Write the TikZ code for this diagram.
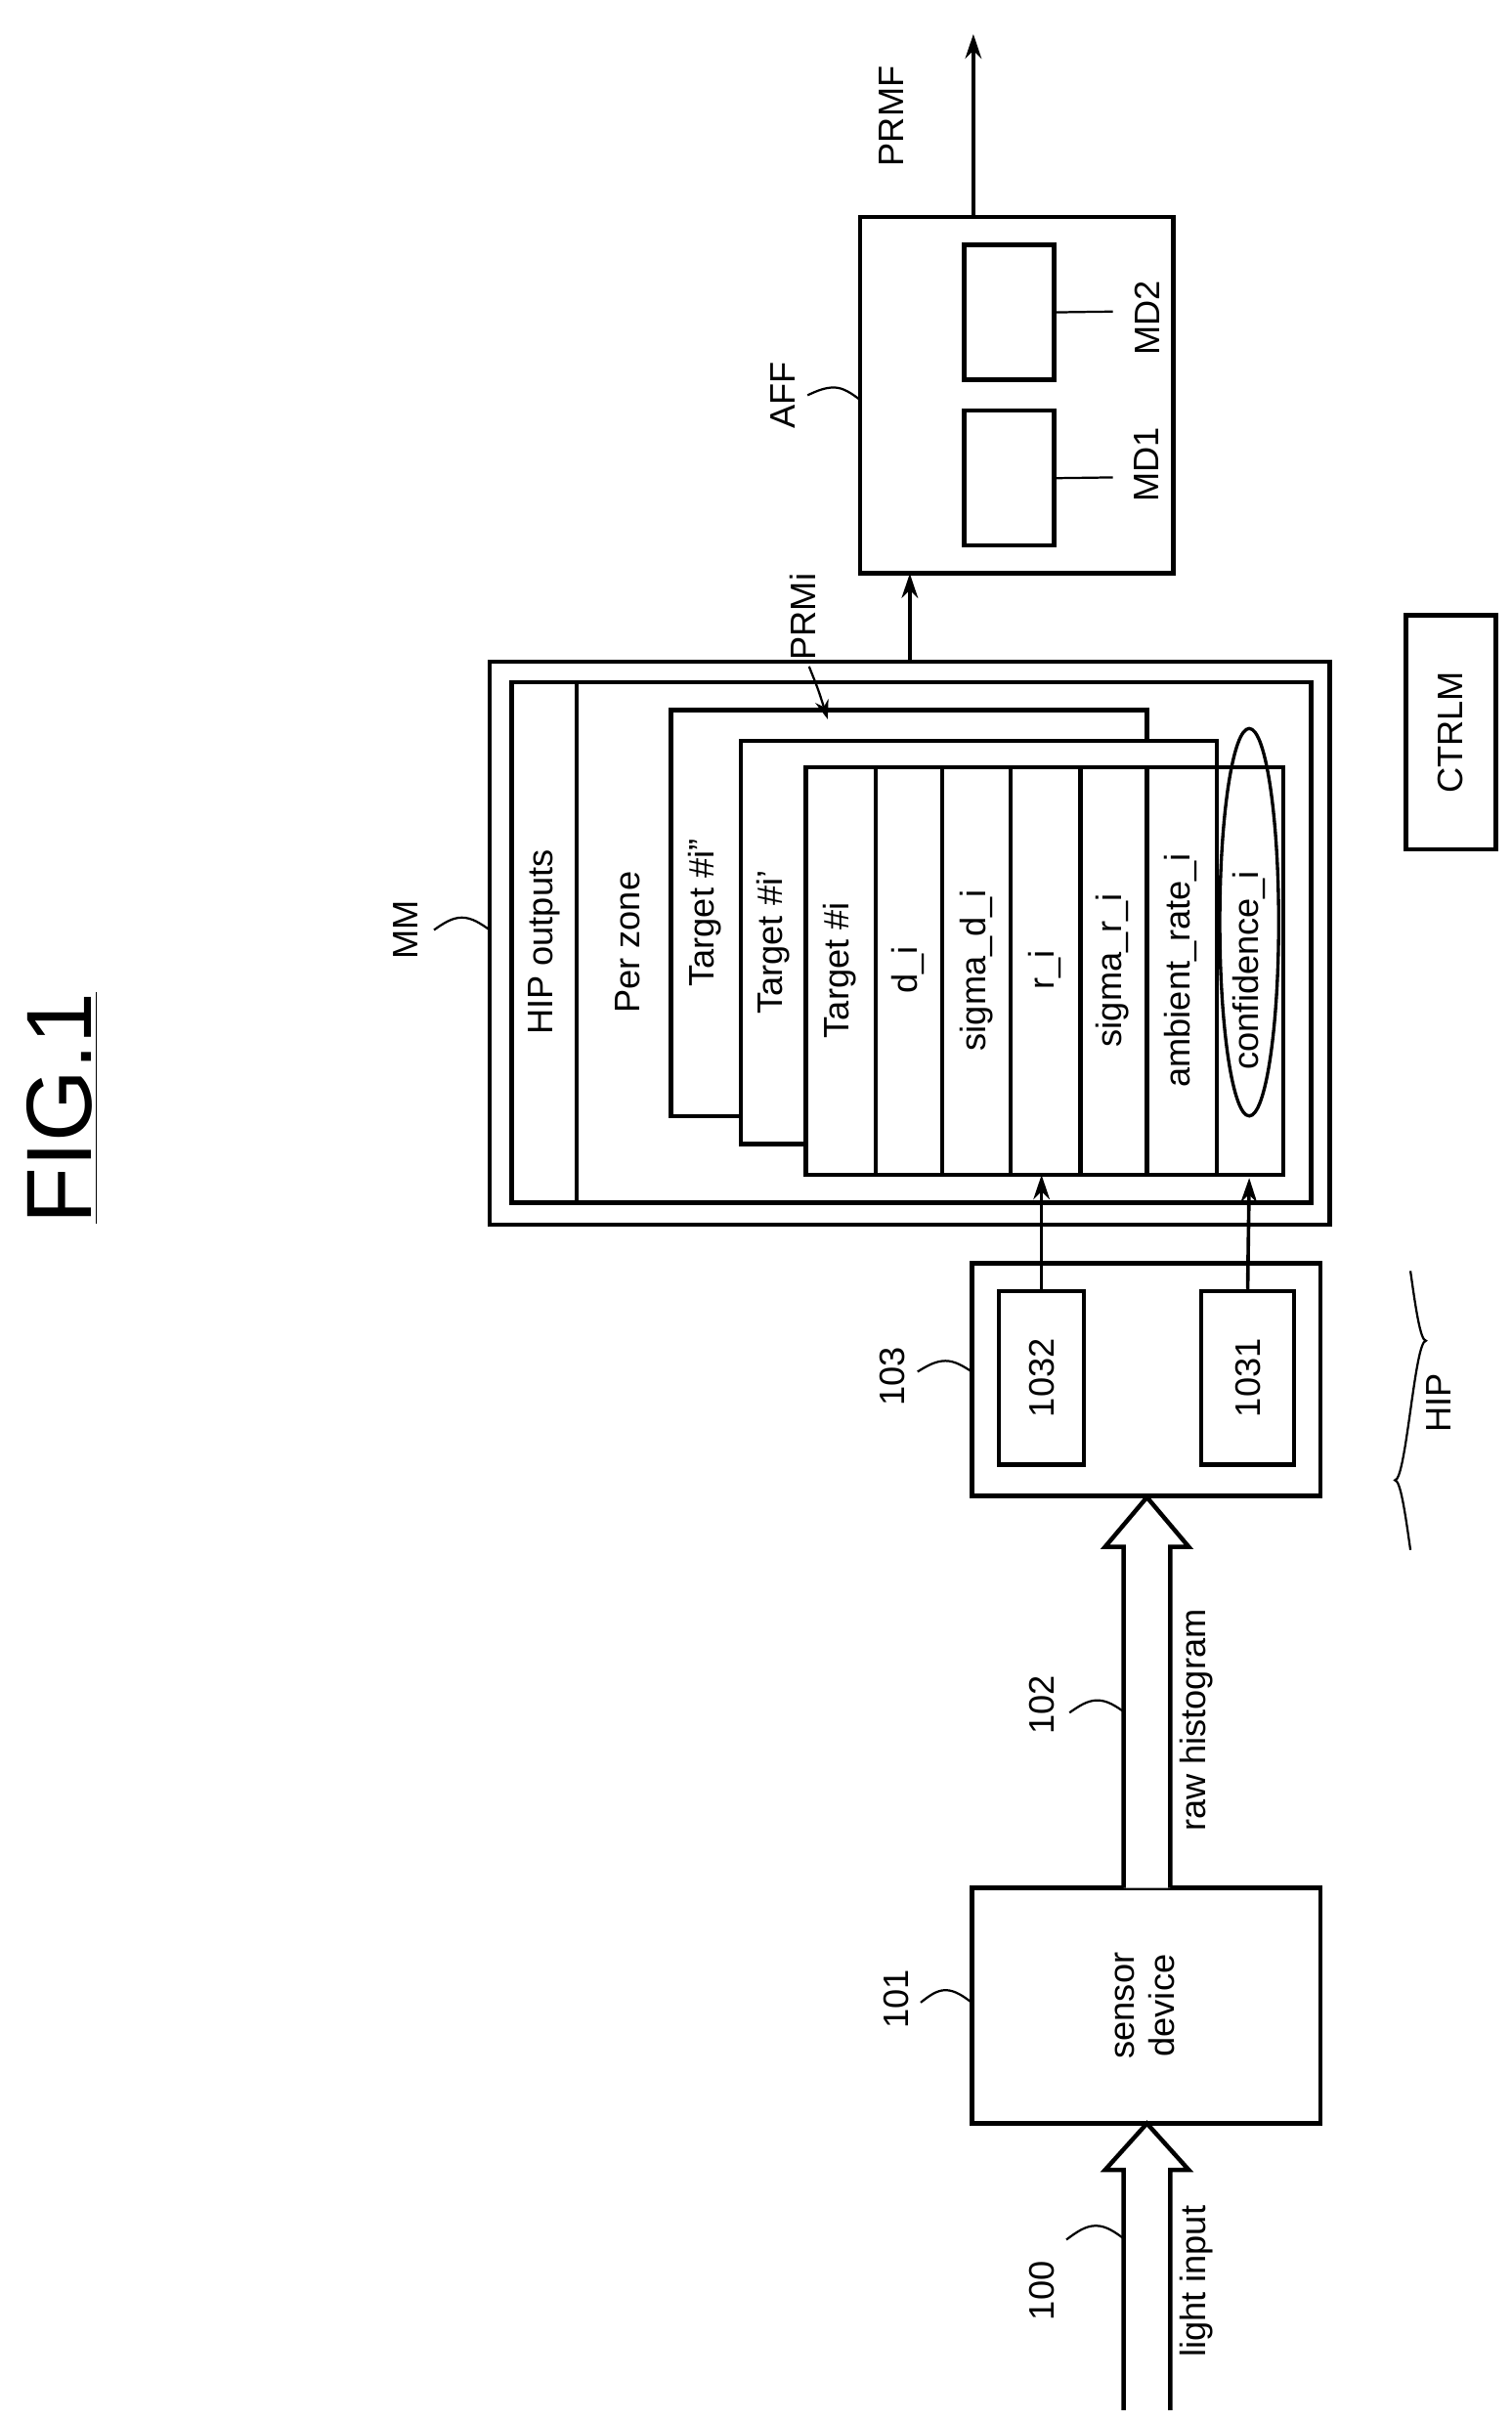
\documentclass[tikz,border=0pt]{standalone}
\usepackage{fontspec}
\setmainfont{Liberation Sans}
\usepackage{graphicx}
\usetikzlibrary{arrows.meta, positioning, calc}

\begin{document}
\begin{tikzpicture}[
    x=0.02cm, y=-0.02cm,
    font=\fontsize{13}{15}\selectfont,
    line width=1.3pt,
    box/.style={draw, line width=1.6pt, inner sep=0pt, fill=white},
    rlabel/.style={rotate=90, inner sep=1pt},
    lead/.style={line width=0.8pt},
    arrow/.style={-{Stealth[length=9pt, width=6pt]}, line width=1.3pt},
    hollow/.style={draw, line width=1.6pt, fill=white}
]
\useasboundingbox (0,0) rectangle (975,1562);

% === TITLE ===
\node[rlabel, font=\fontsize{34}{36}\selectfont] (fig) at (40,715) {\underline{FIG.1}};

% === SENSOR AND INPUT ===
\node[box, minimum width=4.5cm, minimum height=3.04cm] (sensor) at (739.5,1294)
    {\rotatebox{90}{\begin{tabular}{c}sensor\\device\end{tabular}}};
\coordinate (lin) at (740,1555);
\draw[hollow] (725,1555) -- (725,1400) -- (713,1400) -- (740,1370) -- (767,1400) -- (755,1400) -- (755,1555);
\node[rlabel] (light) at (772,1472) {light input};
\node[rlabel] (n100) at (672,1478) {100};
\draw[lead] (688,1445) sin (707,1436) cos (726,1445);
\node[rlabel] (n101) at (578,1290) {101};
\draw[lead] (594,1292) sin (610,1284) cos (627,1292);

% === RAW HISTOGRAM ===
\draw[hollow] (725,1218) -- (725,998) -- (713,998) -- (740,966) -- (767,998) -- (755,998) -- (755,1218);
\node[rlabel] (raw) at (772,1110) {raw histogram};
\node[rlabel] (n102) at (672,1100) {102};
\draw[lead] (690,1105) sin (708,1097) cos (726,1105);

% === HIP ===
\node[box, minimum width=4.5cm, minimum height=3.0cm] (hip) at (739.5,890) {};
\node[box, minimum width=1.1cm, minimum height=2.24cm] (b1032) at (672,889) {\rotatebox{90}{1032}};
\node[box, minimum width=1.2cm, minimum height=2.24cm] (b1031) at (805,889) {\rotatebox{90}{1031}};
\node[rlabel] (n103) at (576,888) {103};
\draw[lead] (592,885) sin (610,878) cos (627,885);
\node[rlabel] (hiplab) at (928,905) {HIP};
\draw[lead] (910,820) sin (920,865) cos (910,910) sin (900,955) cos (910,1000);

% === MM ===
\node[box, minimum width=10.84cm, minimum height=7.26cm] (mmout) at (587,608.5) {};
\node[box, minimum width=10.32cm, minimum height=6.72cm] (mmin) at (588,608) {};
\node[rlabel] (mmlab) at (262,600) {MM};
\draw[lead] (280,600) sin (298,592) cos (316,600);
\draw[line width=1.6pt] (372,440) -- (372,776);
\node[rlabel] (hipout) at (351,608) {HIP outputs};
\node[rlabel] (perzone) at (405,608) {Per zone};

\draw[box] (433,458) rectangle (740,720);
\node[rlabel] (tii) at (455,589) {Target \#i''};
\draw[box] (478,478) rectangle (785,738);
\node[rlabel] (ti) at (499,608) {Target \#i'};
\draw[box] (520,495) rectangle (828,758);
\foreach \xx in {565,608,652,697,740,785} {
    \draw[line width=1.6pt] (\xx,495) -- (\xx,758);
}
\node[rlabel] at (542,626) {Target \#i};
\node[rlabel] at (586,626) {d\_i};
\node[rlabel] at (630,626) {sigma\_d\_i};
\node[rlabel] at (674,626) {r\_i};
\node[rlabel] at (718,626) {sigma\_r\_i};
\node[rlabel] at (762,626) {ambient\_rate\_i};
\node[rlabel] (conf) at (806,626) {confidence\_i};
\draw[line width=1.2pt] (806,595) ellipse [x radius=19, y radius=125];
\coordinate (confb) at (806,760);

% === HIP -> MM ===
\draw[arrow] (b1032.north) -- (672,758);
\draw[arrow] (b1031.north) -- (confb);

% === PRMi ===
\node[rlabel] (prmi) at (518,398) {PRMi};
\draw[lead, -{Stealth[length=7pt, width=5pt]}] (522,430) .. controls (528,445) .. (534,464);

% === AFF ===
\node[box, minimum width=4.04cm, minimum height=4.6cm] (aff) at (656,255) {};
\node[box, minimum width=1.16cm, minimum height=1.74cm] (md1) at (651,308.5) {};
\node[box, minimum width=1.16cm, minimum height=1.74cm] (md2) at (651,201.5) {};
\node[rlabel] (md1lab) at (740,300) {MD1};
\node[rlabel] (md2lab) at (740,205) {MD2};
\draw[lead] (md1.east) -- (718,308);
\draw[lead] (md2.east) -- (718,201);
\node[rlabel] (afflab) at (505,255) {AFF};
\draw[lead] (521,255) sin (538,250) cos (555,258);
\draw[arrow] (587,427) -- (587,370);

% === PRMF ===
\coordinate (prmfend) at (628,22);
\draw[arrow] (aff.north -| prmfend) -- (prmfend);
\node[rlabel] (prmf) at (575,75) {PRMF};

% === CTRLM ===
\node[box, minimum width=1.16cm, minimum height=3.02cm] (ctrlm) at (936,472.5) {\rotatebox{90}{CTRLM}};

\end{tikzpicture}
\end{document}
